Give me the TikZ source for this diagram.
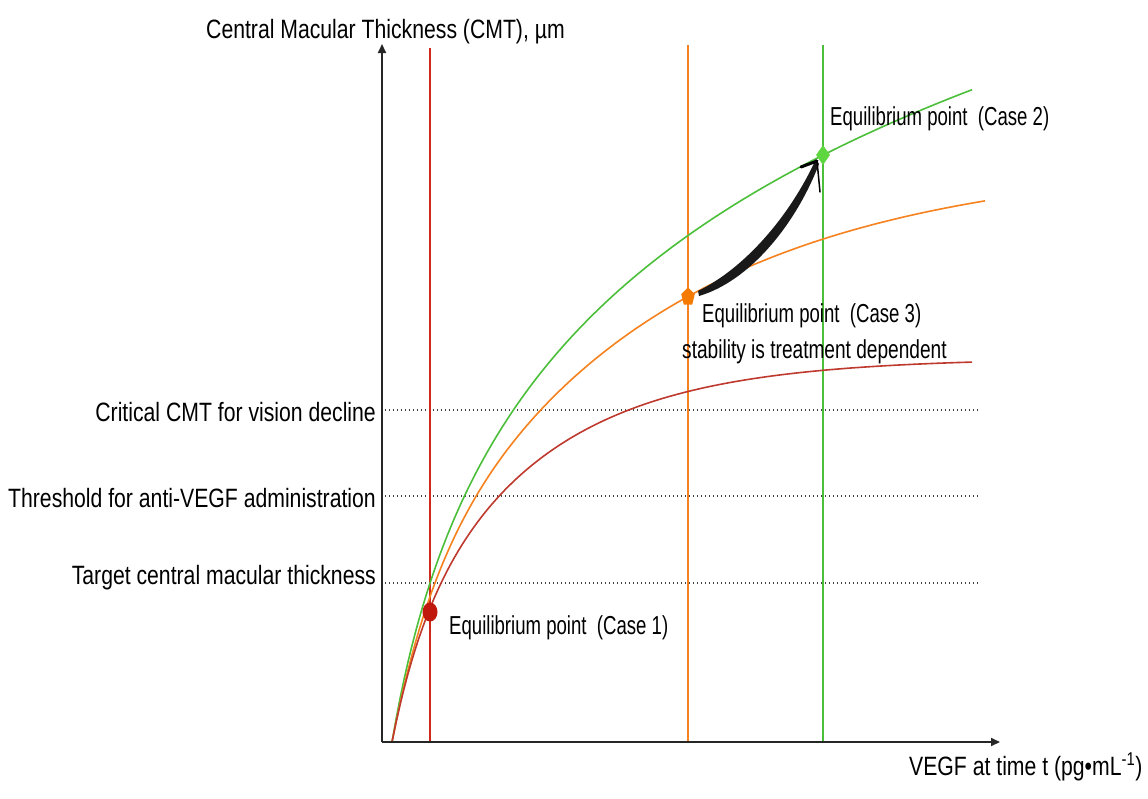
\documentclass[tikz,border=0pt]{standalone}
\usepackage{fontspec}
\setmainfont{Liberation Sans}[FakeStretch=0.80]
\newfontfamily\casefont{Liberation Sans}[FakeStretch=0.715]
\newfontfamily\stabfont{Liberation Sans}[FakeStretch=0.735]
\usetikzlibrary{shapes.geometric,arrows.meta}
\definecolor{redline}{HTML}{D0281A}
\definecolor{redcurve}{HTML}{BE3A2E}
\definecolor{redmark}{HTML}{C0180C}
\definecolor{orangeline}{HTML}{F5821E}
\definecolor{orangemark}{HTML}{F57B00}
\definecolor{greenline}{HTML}{4CBF3A}
\definecolor{greenmark}{HTML}{5ED63F}
\begin{document}
\begin{tikzpicture}[x=1pt,y=-1pt,
  lab/.style={font=\fontsize{26.5}{30}\selectfont, inner sep=0pt},
  caselab/.style={font=\casefont\fontsize{26}{30}\selectfont, inner sep=0pt},
  stablab/.style={font=\stabfont\fontsize{26}{30}\selectfont, inner sep=0pt},
  axis/.style={line width=1.8pt, draw=black!85, -{Triangle[length=9pt,width=8pt]}},
  vline/.style={line width=1.2pt},
  curve/.style={line width=1.6pt},
  guide/.style={line width=1.4pt, draw=black!75, dash pattern=on 1.4pt off 2.6pt}]
\useasboundingbox (0,0) rectangle (1148,798);
% guide lines
\coordinate (g1a) at (385,410); \coordinate (g1b) at (980,410);
\coordinate (g2a) at (385,496); \coordinate (g2b) at (980,496);
\coordinate (g3a) at (385,583); \coordinate (g3b) at (980,583);
\draw[guide] (g1a) -- (g1b);
\draw[guide] (g2a) -- (g2b);
\draw[guide] (g3a) -- (g3b);
% vertical lines
\coordinate (r1) at (430,48); \coordinate (r2) at (430,742);
\coordinate (o1) at (688,45); \coordinate (o2) at (688,742);
\coordinate (v1) at (823,45); \coordinate (v2) at (823,742);
\draw[vline, redline] (r1) -- (r2);
\draw[vline, orangeline] (o1) -- (o2);
\draw[vline, greenline] (v1) -- (v2);
% curves
\draw[curve, greenline] plot[domain=0:580, samples=150, variable=\t]
  ({392+\t},{742-238*ln(1+\t/40)});
\draw[curve, orangeline] plot[domain=0:593, samples=150, variable=\t]
  ({392+\t},{742-134*(1-exp(-\t/40))-449*(1-exp(-\t/250))});
\draw[curve, redcurve] plot[domain=0:580, samples=150, variable=\t]
  ({392+\t},{742-84*(1-exp(-\t/30))-300*(1-exp(-\t/135))});
% axes
\coordinate (O) at (382,742);
\coordinate (ytop) at (382,44);
\coordinate (xend) at (1000,742);
\draw[axis] (O) -- (ytop);
\draw[axis] (O) -- (xend);
% markers
\node[ellipse, fill=redmark, minimum width=15pt, minimum height=19pt, inner sep=0pt] (eq1) at (430,612) {};
\node[regular polygon, regular polygon sides=5, fill=orangemark, minimum size=19pt, inner sep=0pt, xscale=0.75, transform shape] (eq3) at (688,297) {};
\node[diamond, fill=greenmark, minimum width=14pt, minimum height=20pt, inner sep=0pt, shape aspect=0.7] (eq2) at (823,155) {};
% hand-drawn arrow
\coordinate (astart) at (698,291);
\coordinate (atip) at (817,161);
\fill[black!90] (astart) .. controls (745,268) and (790,216) .. (816,159)
  -- (819,164) .. controls (796,224) and (750,281) .. (699,296) -- cycle;
\draw[line width=3pt, line cap=round] (atip) -- (801,167);
\draw[line width=1.5pt, line cap=round] (atip) -- (820,192);
% labels
\node[lab, anchor=base west] (ylab) at (206,38) {Central Macular Thickness (CMT), µm};
\node[lab, anchor=base west] (xlab) at (909,775) {VEGF at time t (pg•mL\textsuperscript{-1})};
\node[lab, anchor=base east] (l1) at (376,421) {Critical CMT for vision decline};
\node[lab, anchor=base east] (l2) at (376,507) {Threshold for anti-VEGF administration};
\node[lab, anchor=base east] (l3) at (376,584) {Target central macular thickness};
\node[caselab, anchor=base west] (c1) at (449,634) {Equilibrium point\ \ (Case 1)};
\node[caselab, anchor=base west] (c2) at (830,125) {Equilibrium point\ \ (Case 2)};
\node[caselab, anchor=base west] (c3) at (702,322) {Equilibrium point\ \ (Case 3)};
\node[stablab, anchor=base west] (c3b) at (682,358) {stability is treatment dependent};
\end{tikzpicture}
\end{document}
